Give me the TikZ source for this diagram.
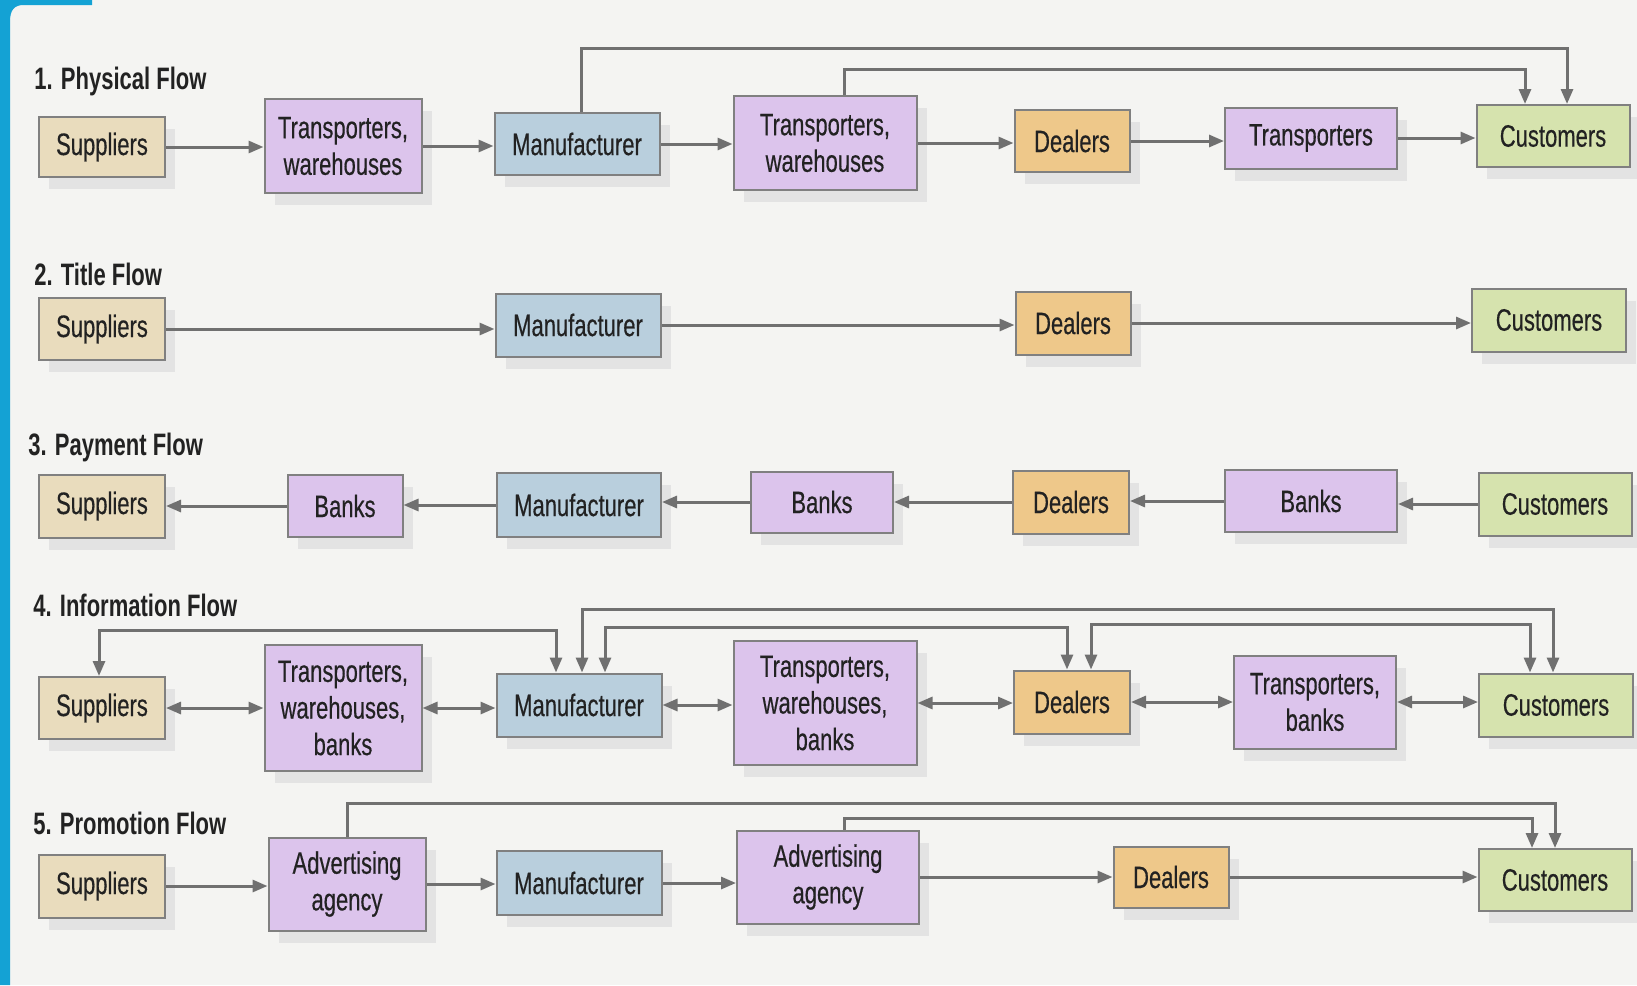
\documentclass[tikz,border=0pt]{standalone}
\usepackage{fontspec}
\setmainfont[FakeStretch=0.71]{Liberation Sans}
\newfontfamily\boxfont[FakeStretch=0.71,FakeBold=0.4]{Liberation Sans}
\usetikzlibrary{arrows.meta,shadows}
\definecolor{bgc}{HTML}{F4F4F2}
\definecolor{barblue}{HTML}{14A2D4}
\definecolor{supc}{HTML}{E9DCBD}
\definecolor{lavc}{HTML}{DCC4EC}
\definecolor{manc}{HTML}{B9CFDD}
\definecolor{dealc}{HTML}{EEC88A}
\definecolor{custc}{HTML}{D6E3AE}
\definecolor{edgec}{HTML}{808080}
\definecolor{arrc}{HTML}{707070}
\definecolor{txtc}{HTML}{222222}
\begin{document}
\begin{tikzpicture}[x=0.5pt,y=-0.5pt,
  bw/.style={minimum width=#1*0.5pt},
  bh/.style={minimum height=#1*0.5pt},
  box/.style={draw=edgec, line width=1pt, inner sep=0pt, align=center,
    text=txtc, font=\boxfont\fontsize{15.5}{18.3}\selectfont,
    drop shadow={shadow xshift=5pt, shadow yshift=-6pt, fill=black!11, opacity=1}},
  sup/.style={box, fill=supc},
  lav/.style={box, fill=lavc},
  man/.style={box, fill=manc},
  deal/.style={box, fill=dealc},
  cust/.style={box, fill=custc},
  ttl/.style={anchor=west, inner sep=0pt, text=txtc, font=\fontsize{15.5}{18}\selectfont\bfseries},
  arr/.style={draw=arrc, line width=1.5pt, -{Triangle[length=7.5pt,width=6pt]}},
  darr/.style={draw=arrc, line width=1.5pt, {Triangle[length=7.5pt,width=6pt]}-{Triangle[length=7.5pt,width=6pt]}}
]
\useasboundingbox (0,0) rectangle (1637,985);
\fill[bgc] (0,0) rectangle (1637,985);
\fill[barblue] (0,0) -- (92,0) -- (92,5) -- (24,5) .. controls (14,5) and (10,10) .. (10,22) -- (10,985) -- (0,985) -- cycle;

% ---------- 1. Physical Flow
\node[ttl] (h1) at (34,81) {1. Physical Flow};
\node[sup, bw=126, bh=60] (s1) at (102,147) {Suppliers};
\node[lav, bw=157, bh=94] (t1) at (343,146) {Transporters,\\warehouses};
\node[man, bw=165, bh=62] (m1) at (577,144) {Manufacturer};
\node[lav, bw=183, bh=94] (t2) at (825,143) {Transporters,\\warehouses};
\node[deal, bw=115, bh=62] (d1) at (1072,141) {Dealers};
\node[lav, bw=172, bh=61] (r1) at (1311,138) {Transporters};
\node[cust, bw=153, bh=62] (c1) at (1553,136) {Customers};
\draw[arr] (s1.east) -- (s1.east -| t1.west);
\draw[arr] (t1.east) -- (t1.east -| m1.west);
\draw[arr] (m1.east) -- (m1.east -| t2.west);
\draw[arr] (t2.east) -- (t2.east -| d1.west);
\draw[arr] (d1.east) -- (d1.east -| r1.west);
\draw[arr] (r1.east) -- (r1.east -| c1.west);
\coordinate (L1a) at (0,48);
\coordinate (L1b) at (0,69);
\coordinate (p1a) at ([xshift=2pt]m1.north);
\coordinate (p1b) at ([xshift=7pt]c1.north);
\coordinate (p1c) at ([xshift=9.5pt]t2.north);
\coordinate (p1d) at ([xshift=-14pt]c1.north);
\draw[arr] (p1a) -- (p1a |- L1a) -| (p1b);
\draw[arr] (p1c) -- (p1c |- L1b) -| (p1d);

% ---------- 2. Title Flow
\node[ttl] (h2) at (34,274) {2. Title Flow};
\node[sup, bw=126, bh=62] (s2) at (102,329) {Suppliers};
\node[man, bw=165, bh=63] (m2) at (578,325) {Manufacturer};
\node[deal, bw=115, bh=63] (d2) at (1073,323) {Dealers};
\node[cust, bw=154, bh=63] (c2) at (1549,320) {Customers};
\draw[arr] (s2.east) -- (s2.east -| m2.west);
\draw[arr] (m2.east) -- (m2.east -| d2.west);
\draw[arr] (d2.east) -- (d2.east -| c2.west);

% ---------- 3. Payment Flow
\node[ttl] (h3) at (28,447) {3. Payment Flow};
\node[sup, bw=126, bh=63] (s3) at (102,506) {Suppliers};
\node[lav, bw=115, bh=62] (b1) at (345,506) {Banks};
\node[man, bw=164, bh=64] (m3) at (579,505) {Manufacturer};
\node[lav, bw=142, bh=61] (b2) at (822,502) {Banks};
\node[deal, bw=116, bh=63] (d3) at (1071,502) {Dealers};
\node[lav, bw=172, bh=62] (b3) at (1311,501) {Banks};
\node[cust, bw=153, bh=63] (c3) at (1555,504) {Customers};
\draw[arr] (c3.west) -- (c3.west -| b3.east);
\draw[arr] (b3.west) -- (b3.west -| d3.east);
\draw[arr] (d3.west) -- (d3.west -| b2.east);
\draw[arr] (b2.west) -- (b2.west -| m3.east);
\draw[arr] (m3.west) -- (m3.west -| b1.east);
\draw[arr] (b1.west) -- (b1.west -| s3.east);

% ---------- 4. Information Flow
\node[ttl] (h4) at (33,605) {4. Information Flow};
\node[sup, bw=126, bh=62] (s4) at (102,708) {Suppliers};
\node[lav, bw=157, bh=126] (t3) at (343,708) {Transporters,\\warehouses,\\banks};
\node[man, bw=165, bh=63] (m4) at (579,705) {Manufacturer};
\node[lav, bw=183, bh=124] (t4) at (825,703) {Transporters,\\warehouses,\\banks};
\node[deal, bw=116, bh=63] (d4) at (1072,702) {Dealers};
\node[lav, bw=162, bh=93] (t5) at (1315,702) {Transporters,\\banks};
\node[cust, bw=154, bh=63] (c4) at (1556,705) {Customers};
\draw[darr] (s4.east) -- (s4.east -| t3.west);
\draw[darr] (t3.east) -- (t3.east -| m4.west);
\draw[darr] (m4.east) -- (m4.east -| t4.west);
\draw[darr] (t4.east) -- (t4.east -| d4.west);
\draw[darr] (d4.east) -- (d4.east -| t5.west);
\draw[darr] (t5.east) -- (t5.east -| c4.west);
\coordinate (L4a) at (0,609);
\coordinate (L4b) at (0,630);
\coordinate (L4c) at (0,627);
\coordinate (L4d) at (0,624);
\coordinate (q1a) at ([xshift=-1.5pt]s4.north);
\coordinate (q1b) at ([xshift=-11.5pt]m4.north);
\coordinate (q2a) at ([xshift=1.5pt]m4.north);
\coordinate (q2b) at ([xshift=-1.5pt]c4.north);
\coordinate (q3a) at ([xshift=13pt]m4.north);
\coordinate (q3b) at ([xshift=-2.5pt]d4.north);
\coordinate (q4a) at ([xshift=9.5pt]d4.north);
\coordinate (q4b) at ([xshift=-13pt]c4.north);
\draw[darr] (q1a) -- (q1a |- L4b) -| (q1b);
\draw[darr] (q2a) -- (q2a |- L4a) -| (q2b);
\draw[darr] (q3a) -- (q3a |- L4c) -| (q3b);
\draw[darr] (q4a) -- (q4a |- L4d) -| (q4b);

% ---------- 5. Promotion Flow
\node[ttl] (h5) at (33,823) {5. Promotion Flow};
\node[sup, bw=126, bh=63] (s5) at (102,886) {Suppliers};
\node[lav, bw=157, bh=93] (a1) at (347,884) {Advertising\\agency};
\node[man, bw=165, bh=64] (m5) at (579,883) {Manufacturer};
\node[lav, bw=182, bh=93] (a2) at (828,877) {Advertising\\agency};
\node[deal, bw=115, bh=61] (d5) at (1171,877) {Dealers};
\node[cust, bw=153, bh=62] (c5) at (1555,880) {Customers};
\draw[arr] (s5.east) -- (s5.east -| a1.west);
\draw[arr] (a1.east) -- (a1.east -| m5.west);
\draw[arr] (m5.east) -- (m5.east -| a2.west);
\draw[arr] (a2.east) -- (a2.east -| d5.west);
\draw[arr] (d5.east) -- (d5.east -| c5.west);
\coordinate (L5a) at (0,803);
\coordinate (L5b) at (0,818);
\coordinate (r1a) at (a1.north);
\coordinate (r1b) at (c5.north);
\coordinate (r2a) at ([xshift=8pt]a2.north);
\coordinate (r2b) at ([xshift=-11.5pt]c5.north);
\draw[arr] (r1a) -- (r1a |- L5a) -| (r1b);
\draw[arr] (r2a) -- (r2a |- L5b) -| (r2b);
\end{tikzpicture}
\end{document}
